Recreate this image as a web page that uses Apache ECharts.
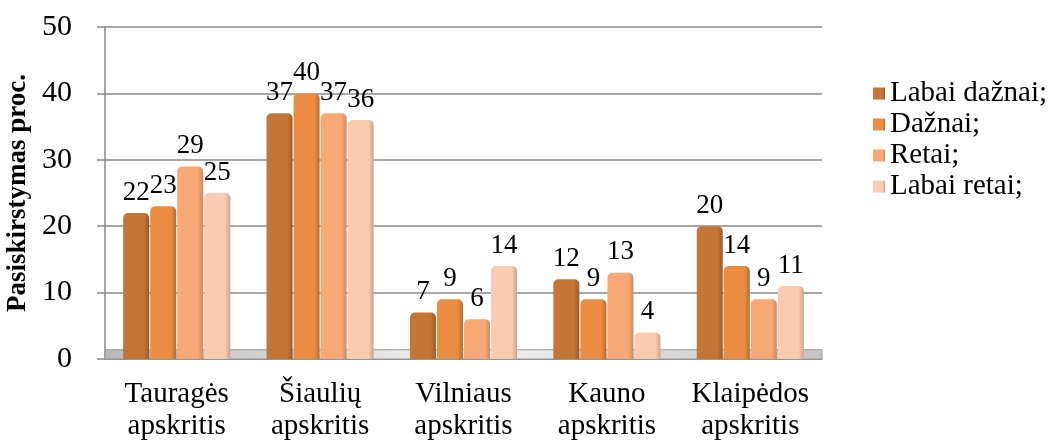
<!DOCTYPE html>
<html>
<head>
<meta charset="utf-8">
<script src="https://cdn.jsdelivr.net/npm/echarts@6/dist/echarts.min.js"></script>
<style>
  html, body { margin: 0; padding: 0; background: #fff; }
  #chart { width: 1054px; height: 441px; }
</style>
</head>
<body>
<div id="chart"></div>
<script>
// apskritys
var categories = ['Tauragės\napskritis', 'Šiaulių\napskritis', 'Vilniaus\napskritis', 'Kauno\napskritis', 'Klaipėdos\napskritis'];
var seriesNames = ['Labai dažnai;', 'Dažnai;', 'Retai;', 'Labai retai;'];
var labaiDaznai = [22, 37, 7, 12, 20];
var daznai = [23, 40, 9, 9, 14];
var retai = [29, 37, 6, 13, 9];
var labaiRetai = [25, 36, 14, 4, 11];
var colors = ['#c57536', '#ea8d43', '#f8a875', '#facbb0'];
var edges = ['#9a5a28', '#b86c30', '#c98a62', '#c9a290'];

var font = 'Liberation Serif, Times New Roman, serif';

function makeSeries(name, data, i) {
    var s = {
        name: name,
        type: 'bar',
        data: data,
        barWidth: 26,
        barGap: '4%',
        itemStyle: {
            color: {
                type: 'linear', x: 0, y: 0, x2: 1, y2: 0,
                colorStops: [
                    {offset: 0, color: colors[i]},
                    {offset: 0.8, color: colors[i]},
                    {offset: 1, color: edges[i]}
                ]
            },
            borderRadius: [5, 5, 0, 0]
        },
        label: {
            show: true,
            position: 'top',
            distance: 7,
            color: '#000',
            fontFamily: font,
            fontSize: 27
        }
    };
    if (i === 0) {
        // grindys (pilkas pagrindas)
        s.markArea = {
            silent: true,
            itemStyle: {
                color: {
                    type: 'linear', x: 0, y: 0, x2: 1, y2: 0,
                    colorStops: [
                        {offset: 0, color: '#b8b8b8'},
                        {offset: 0.5, color: '#f2f2f2'},
                        {offset: 1, color: '#c4c4c4'}
                    ]
                },
                borderColor: '#999',
                borderWidth: 1
            },
            data: [[{yAxis: 0}, {yAxis: 1.4}]]
        };
    }
    return s;
}

var chart = echarts.init(document.getElementById('chart'));
chart.setOption({
    animation: false,
    color: colors,
    grid: {
        left: 105,
        right: 232,
        top: 27,
        bottom: 82,
        outerBoundsMode: 'none'
    },
    legend: {
        orient: 'vertical',
        left: 868,
        top: 74,
        icon: 'rect',
        itemWidth: 12,
        itemHeight: 12,
        itemGap: 2,
        textStyle: {
            fontFamily: font,
            fontSize: 29,
            lineHeight: 22,
            color: '#000'
        },
        data: seriesNames
    },
    xAxis: {
        type: 'category',
        data: categories,
        axisLine: { lineStyle: { color: '#888', width: 1.5 } },
        axisTick: { show: false },
        axisLabel: {
            interval: 0,
            color: '#000',
            fontFamily: font,
            fontSize: 29,
            lineHeight: 32,
            margin: 19
        }
    },
    yAxis: {
        type: 'value',
        min: 0,
        max: 50,
        interval: 10,
        name: 'Pasiskirstymas proc.',
        nameLocation: 'middle',
        nameRotate: 90,
        nameGap: 67,
        nameTextStyle: {
            color: '#000',
            fontFamily: font,
            fontWeight: 'bold',
            fontSize: 27
        },
        axisLine: { show: true, lineStyle: { color: '#888', width: 1.5 } },
        axisTick: { show: true, inside: false, length: 8, lineStyle: { color: '#888', width: 1.5 } },
        axisLabel: {
            color: '#000',
            fontFamily: font,
            fontSize: 30,
            margin: 33
        },
        splitLine: { lineStyle: { color: '#8a8a8a', width: 1.5 } }
    },
    series: [
        makeSeries(seriesNames[0], labaiDaznai, 0),
        makeSeries(seriesNames[1], daznai, 1),
        makeSeries(seriesNames[2], retai, 2),
        makeSeries(seriesNames[3], labaiRetai, 3)
    ]
});
</script>
</body>
</html>
